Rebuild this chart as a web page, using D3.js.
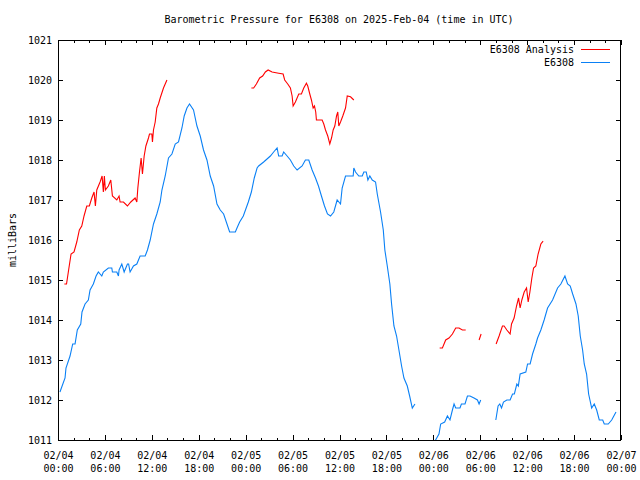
<!DOCTYPE html>
<html>
<head>
<meta charset="utf-8">
<script src="https://cdn.jsdelivr.net/npm/d3@7"></script>
<style>
  html, body { margin: 0; padding: 0; background: #fff; }
  svg { display: block; }
  text { font-family: "DejaVu Sans Mono", "Liberation Mono", monospace; font-size: 10px; fill: #000; }
</style>
</head>
<body>
<svg id="chart" width="640" height="480"></svg>
<script>
// ---- Data (hours after 2025-02-04 00:00 UTC; null = gap) ----
const titleText = "Barometric Pressure for E6308 on 2025-Feb-04 (time in UTC)";
const yLabelText = "milliBars";
const seriesNames = ["E6308 Analysis", "E6308"];
const yTicks = [1011, 1012, 1013, 1014, 1015, 1016, 1017, 1018, 1019, 1020, 1021];

const analysisHours = [
  0.81, 1.09, 1.32, 1.67, 2.05, 2.4, 2.73, 3.04, 3.33, 3.68, 4.01, 4.32, 4.61, 4.78, 4.96, 5.38, 5.64, 5.8, 5.93, 6.06,
  6.44, 6.75, 6.96, 7.52, 7.81, 7.94, 8.37, 8.88, 9.31, 9.86, 10.08, 10.21, 10.42, 10.63, 10.8, 11.02, 11.24, 11.57,
  11.7, 12.0, 12.08, 12.21, 12.43, 12.64, 12.85, 13.07, 13.49, 13.93,
  14.2,
  24.73, 25.02, 25.37, 25.79, 26.17, 26.52, 26.87, 27.38, 28.22, 28.79, 28.99, 29.38, 29.72, 29.94, 30.07, 30.36,
  30.79, 31.13, 31.43, 31.77, 31.94, 32.2, 32.41, 32.63, 32.8, 32.96, 33.05, 33.78, 33.99, 34.21, 34.5, 34.76, 34.98,
  35.19, 35.4, 35.62, 35.78, 35.91, 36.13, 36.42, 36.77, 36.99, 37.41, 37.83,
  38.2,
  48.81, 49.16, 49.58, 50.0, 50.44, 50.86, 51.28, 51.72, 52.14,
  52.5,
  53.85, 54.11,
  54.5,
  56.03, 56.41, 56.84, 57.05, 57.4, 57.82, 58.0, 58.33, 58.64, 58.9, 59.1, 59.32, 59.62, 59.92, 60.13, 60.35, 60.6,
  60.82, 61.11, 61.4, 61.75, 62.04
];
const analysisValues = [
  1014.9, 1014.9, 1015.2, 1015.65, 1015.7, 1015.95, 1016.25, 1016.35, 1016.6, 1016.85, 1016.85, 1017.05, 1017.2, 1016.85, 1017.25, 1017.45, 1017.6, 1017.2, 1017.6, 1017.25,
  1017.35, 1017.5, 1017.1, 1017.0, 1017.1, 1016.95, 1016.95, 1016.85, 1016.95, 1017.05, 1016.95, 1017.3, 1017.7, 1018.05, 1017.65, 1018.1, 1018.35, 1018.55,
  1018.65, 1018.65, 1018.45, 1018.75, 1018.95, 1019.3, 1019.4, 1019.55, 1019.8, 1020.0,
  null,
  1019.8, 1019.8, 1019.9, 1020.05, 1020.1, 1020.2, 1020.25, 1020.2, 1020.17, 1020.15, 1020.0, 1019.9, 1019.8, 1019.6, 1019.35, 1019.45,
  1019.65, 1019.65, 1019.8, 1019.92, 1019.85, 1019.65, 1019.5, 1019.3, 1019.35, 1019.2, 1019.0, 1019.0, 1018.9, 1018.75, 1018.6, 1018.4, 1018.55,
  1018.75, 1018.85, 1019.1, 1019.2, 1018.85, 1018.95, 1019.1, 1019.3, 1019.6, 1019.58, 1019.5,
  null,
  1013.3, 1013.3, 1013.5, 1013.55, 1013.65, 1013.8, 1013.8, 1013.75, 1013.75,
  null,
  1013.5, 1013.65,
  null,
  1013.4, 1013.6, 1013.85, 1013.85, 1013.75, 1013.65, 1013.9, 1014.05, 1014.35, 1014.55, 1014.3, 1014.5, 1014.7, 1014.8, 1014.45, 1014.7, 1015.05,
  1015.3, 1015.35, 1015.65, 1015.9, 1015.97
];

const stationHours = [
  0.25, 0.9, 1.02, 1.54, 1.88, 2.18, 2.47, 2.91, 3.07, 3.46, 3.88, 4.1, 4.52, 4.87, 5.16, 5.6, 5.8, 6.44, 6.88, 6.96,
  7.52, 7.73, 7.81, 8.16, 8.46, 8.88, 9.03, 9.22, 9.65, 10.08, 10.5, 11.15, 11.44, 11.79, 12.21, 12.64, 13.07, 13.29,
  13.71, 14.13, 14.57, 14.99, 15.41, 15.85, 16.14, 16.49, 16.82, 17.33, 17.77, 18.19, 18.61, 19.05, 19.47, 19.9,
  20.33, 20.75, 21.18, 21.61, 21.95, 22.68, 22.89, 23.23, 23.7, 24.34, 24.73, 25.1, 25.46, 25.66, 26.3, 27.16, 27.58,
  28.02, 28.22, 28.66, 28.86, 29.3, 29.72, 30.15, 30.58, 31.22, 31.64, 32.07, 32.5, 32.93, 33.31, 33.69, 34.08, 34.46,
  34.85, 35.27, 35.7, 36.13, 36.34, 36.77, 36.99, 37.75, 37.83, 38.05, 38.47, 38.91, 39.11, 39.42, 39.63, 39.88, 40.19,
  40.61, 40.83, 41.25, 41.6, 41.8, 42.11, 42.44, 42.66, 42.96, 43.3, 43.6, 43.94, 44.24, 44.67, 44.97, 45.31, 45.65,
  46.0,
  48.0, 48.72, 48.94, 49.45, 49.8, 50.13, 50.44, 50.65, 50.86, 51.41, 51.59, 52.05, 52.36, 52.69, 53.2, 53.64, 53.85, 54.06,
  54.5,
  55.99, 56.28, 56.5, 56.72, 56.97, 57.4, 57.82, 58.13, 58.36, 58.68, 58.87, 59.1, 59.83, 60.05, 60.38, 60.69, 61.11,
  61.33, 61.75, 62.17, 62.61, 63.25, 63.89, 64.31, 64.83, 65.17, 65.51, 65.82, 66.24, 66.53, 66.79, 67.09, 67.3, 67.6,
  67.86, 68.25, 68.58, 68.89, 69.22, 69.66, 69.86, 70.37, 70.81, 71.36
];
const stationValues = [
  1012.2, 1012.55, 1012.8, 1013.1, 1013.4, 1013.4, 1013.75, 1013.9, 1014.2, 1014.4, 1014.5, 1014.75, 1014.9, 1015.1, 1015.2, 1015.1, 1015.2, 1015.3, 1015.3, 1015.2,
  1015.2, 1015.1, 1015.25, 1015.4, 1015.2, 1015.4, 1015.4, 1015.2, 1015.35, 1015.4, 1015.6, 1015.6, 1015.75, 1016.0, 1016.4, 1016.65, 1016.95, 1017.25,
  1017.6, 1018.05, 1018.15, 1018.4, 1018.45, 1018.8, 1019.1, 1019.3, 1019.4, 1019.25, 1018.85, 1018.6, 1018.25, 1018.0, 1017.6, 1017.35,
  1016.9, 1016.75, 1016.65, 1016.4, 1016.2, 1016.2, 1016.3, 1016.45, 1016.6, 1016.95, 1017.2, 1017.55, 1017.8, 1017.85, 1017.95, 1018.1, 1018.2,
  1018.3, 1018.1, 1018.1, 1018.2, 1018.1, 1018.0, 1017.85, 1017.75, 1017.85, 1018.0, 1018.0, 1017.75, 1017.55, 1017.35, 1017.1, 1016.85, 1016.65,
  1016.6, 1016.7, 1017.0, 1016.9, 1017.3, 1017.6, 1017.6, 1017.6, 1017.8, 1017.7, 1017.6, 1017.6, 1017.7, 1017.7, 1017.5, 1017.6, 1017.5,
  1017.45, 1017.15, 1016.7, 1016.25, 1015.75, 1015.35, 1014.9, 1014.4, 1013.85, 1013.6, 1013.25, 1012.85, 1012.55, 1012.35, 1012.1, 1011.8, 1011.9,
  null,
  1010.9, 1011.15, 1011.4, 1011.45, 1011.6, 1011.5, 1011.75, 1011.9, 1011.8, 1011.8, 1011.9, 1011.9, 1012.1, 1012.1, 1012.05, 1012.0, 1011.9, 1012.0,
  null,
  1011.5, 1011.85, 1011.9, 1011.8, 1011.95, 1012.0, 1012.0, 1012.15, 1012.15, 1012.4, 1012.35, 1012.65, 1012.7, 1012.9, 1012.9, 1013.15, 1013.4,
  1013.55, 1013.75, 1014.0, 1014.3, 1014.5, 1014.8, 1014.9, 1015.1, 1014.9, 1014.85, 1014.65, 1014.4, 1014.1, 1013.6, 1013.25, 1012.9, 1012.65,
  1012.15, 1011.8, 1011.9, 1011.75, 1011.5, 1011.5, 1011.4, 1011.4, 1011.5, 1011.7
];

(function () {
  const startMs = Date.UTC(2025, 1, 4, 0, 0);
  const endMs = Date.UTC(2025, 1, 7, 0, 0);
  const toDate = h => new Date(startMs + h * 3600000);

  const pl = 58, pr = 621, pt = 40, pb = 440;
  const svg = d3.select("#chart");

  const x = d3.scaleUtc().domain([new Date(startMs), new Date(endMs)]).range([pl, pr]);
  const y = d3.scaleLinear().domain([1011, 1021]).range([pb, pt]);

  svg.append("defs").append("clipPath").attr("id", "plotclip")
    .append("rect").attr("x", pl).attr("y", pt).attr("width", pr - pl).attr("height", pb - pt);

  const fmtDay = d3.utcFormat("%m/%d");
  const fmtTime = d3.utcFormat("%H:%M");

  // Minor ticks every 2 hours (bottom & top)
  const minorTicks = d3.utcHour.every(2).range(new Date(startMs), new Date(endMs + 1));
  svg.append("g").attr("transform", `translate(0,${pb})`)
    .call(d3.axisBottom(x).tickValues(minorTicks).tickSize(-2.5).tickFormat(""))
    .call(g => g.select(".domain").remove());
  svg.append("g").attr("transform", `translate(0,${pt})`)
    .call(d3.axisTop(x).tickValues(minorTicks).tickSize(-2.5).tickFormat(""))
    .call(g => g.select(".domain").remove());

  // Major ticks every 6 hours
  const majorTicks = d3.utcHour.every(6).range(new Date(startMs), new Date(endMs + 1));
  const xAxisG = svg.append("g").attr("transform", `translate(0,${pb})`)
    .call(d3.axisBottom(x).tickValues(majorTicks).tickSize(-5).tickPadding(0).tickFormat(""))
    .call(g => g.select(".domain").remove());
  xAxisG.selectAll(".tick text").remove();
  xAxisG.selectAll(".tick").append("text")
    .attr("text-anchor", "middle")
    .attr("fill", "#000")
    .each(function (d) {
      const t = d3.select(this);
      t.append("tspan").attr("x", 0).attr("y", 19).text(fmtDay(d));
      t.append("tspan").attr("x", 0).attr("y", 32).text(fmtTime(d));
    });
  svg.append("g").attr("transform", `translate(0,${pt})`)
    .call(d3.axisTop(x).tickValues(majorTicks).tickSize(-5).tickFormat(""))
    .call(g => g.select(".domain").remove());

  // Y axis
  svg.append("g").attr("transform", `translate(${pl},0)`)
    .call(d3.axisLeft(y).tickValues(yTicks).tickSize(-5).tickPadding(6).tickFormat(d3.format("d")))
    .call(g => g.select(".domain").remove())
    .call(g => g.selectAll("text").attr("dy", "0.35em").attr("fill", "#000"));
  svg.append("g").attr("transform", `translate(${pr},0)`)
    .call(d3.axisRight(y).tickValues(yTicks).tickSize(-5).tickFormat(""))
    .call(g => g.select(".domain").remove());

  svg.selectAll(".tick line").attr("stroke", "#000").attr("shape-rendering", "crispEdges");
  svg.selectAll("g text").attr("font-family", null).attr("font-size", null);

  // Frame
  svg.append("rect").attr("x", pl + 0.5).attr("y", pt + 0.5)
    .attr("width", pr - pl - 1).attr("height", pb - pt)
    .attr("fill", "none").attr("stroke", "#000").attr("shape-rendering", "crispEdges");

  // Lines
  const colors = ["#ff0000", "#0a80f5"];
  const series = [
    analysisHours.map((h, i) => ({ t: toDate(h), v: analysisValues[i] })),
    stationHours.map((h, i) => ({ t: toDate(h), v: stationValues[i] }))
  ];
  const line = d3.line().defined(d => d.v !== null).x(d => x(d.t)).y(d => y(d.v));
  const plot = svg.append("g").attr("clip-path", "url(#plotclip)");
  series.forEach((s, i) => {
    plot.append("path").datum(s).attr("d", line)
      .attr("fill", "none").attr("stroke", colors[i]).attr("stroke-width", 1.1)
      .attr("stroke-linejoin", "miter");
  });

  // Legend
  const legendY = [49.5, 62.5];
  seriesNames.forEach((name, i) => {
    svg.append("text").attr("x", 574).attr("y", legendY[i]).attr("dy", "0.35em")
      .attr("text-anchor", "end").text(name);
    svg.append("line").attr("x1", 581).attr("x2", 610).attr("y1", legendY[i]).attr("y2", legendY[i])
      .attr("stroke", colors[i]).attr("stroke-width", 1).attr("shape-rendering", "crispEdges");
  });

  // Title
  svg.append("text").attr("x", 339).attr("y", 19).attr("dy", "0.35em")
    .attr("text-anchor", "middle").text(titleText);

  // Y label
  svg.append("text").attr("transform", "translate(12,240) rotate(-90)")
    .attr("dy", "0.35em").attr("text-anchor", "middle").text(yLabelText);
})();
</script>
</body>
</html>
